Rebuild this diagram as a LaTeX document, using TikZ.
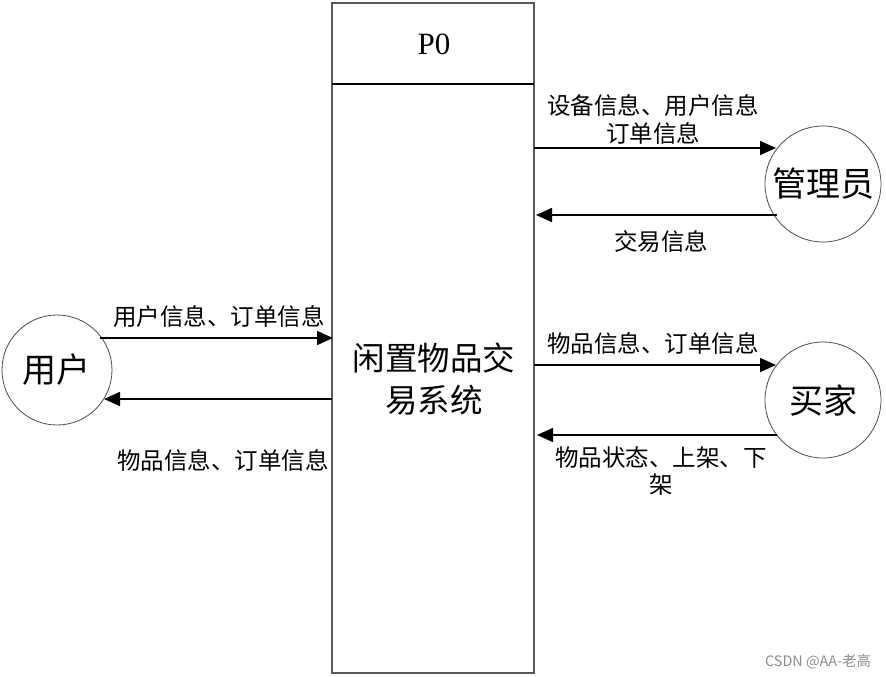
\documentclass[tikz,border=0pt]{standalone}
\usepackage{fontspec}
\setmainfont{Liberation Serif}
\newfontfamily\cjk{Noto Sans CJK SC}
\usetikzlibrary{arrows.meta}
\begin{document}
\begin{tikzpicture}[x=1pt,y=-1pt,
  lbl/.style={font=\cjk\fontsize{23.5}{28}\selectfont, inner sep=0pt, align=center},
  big/.style={font=\cjk\fontsize{32.5}{42}\selectfont, inner sep=0pt, align=center},
  ent/.style={circle, draw=black!70, line width=0.8pt, minimum size=116pt, inner sep=0pt, font=\cjk\fontsize{34}{38}\selectfont},
  flow/.style={line width=1.6pt, -{Triangle[length=16pt,width=14pt]}}]
\useasboundingbox (0,0) rectangle (886,677);
% process box
\node (proc) [draw=black!65, line width=1.6pt, minimum width=202pt, minimum height=670pt, inner sep=0pt] at (433,338) {};
\coordinate (hl) at (332,84);
\coordinate (hr) at (534,84);
\draw[line width=1.2pt] (hl) -- (hr);
\node (p0) [font=\fontsize{31}{36}\selectfont, inner sep=0pt] at (434,44) {P0};
\node (ptext) [big] at (434,379) {闲置物品交\\易系统};
% entities
\node (user) [ent, minimum size=110pt] at (57,370) {用户};
\node (admin) [ent] at (823,184) {管理员};
\node (buyer) [ent] at (823,400) {买家};
% connector endpoints on the process box
\coordinate (pu1) at (333,338);
\coordinate (pu2) at (332,399);
\coordinate (pa1) at (534,148);
\coordinate (pa2) at (536,215);
\coordinate (pb1) at (534,365);
\coordinate (pb2) at (537,435);
\coordinate (u1) at (100,338);
\coordinate (u2) at (104,399);
\coordinate (a1) at (776,148);
\coordinate (a2) at (777,215);
\coordinate (b1) at (776,365);
\coordinate (b2) at (777,435);
\draw[flow] (u1) -- (pu1);
\draw[flow] (pu2) -- (u2);
\draw[flow] (pa1) -- (a1);
\draw[flow] (a2) -- (pa2);
\draw[flow] (pb1) -- (b1);
\draw[flow] (b2) -- (pb2);
% labels
\node (l1) [lbl] at (219,317) {用户信息、订单信息};
\node (l2) [lbl] at (223,460) {物品信息、订单信息};
\node (l3) [lbl] at (653,119) {设备信息、用户信息\\订单信息};
\node (l4) [lbl] at (661,242) {交易信息};
\node (l5) [lbl] at (653,343) {物品信息、订单信息};
\node (l6) [lbl, font=\cjk\fontsize{23.5}{27}\selectfont] at (661,471) {物品状态、上架、下\\架};
% watermark
\node (wm) [font=\cjk\fontsize{14.4}{16}\selectfont, text=black!45, inner sep=0pt] at (818,662) {CSDN @AA-老高};
\end{tikzpicture}
\end{document}
